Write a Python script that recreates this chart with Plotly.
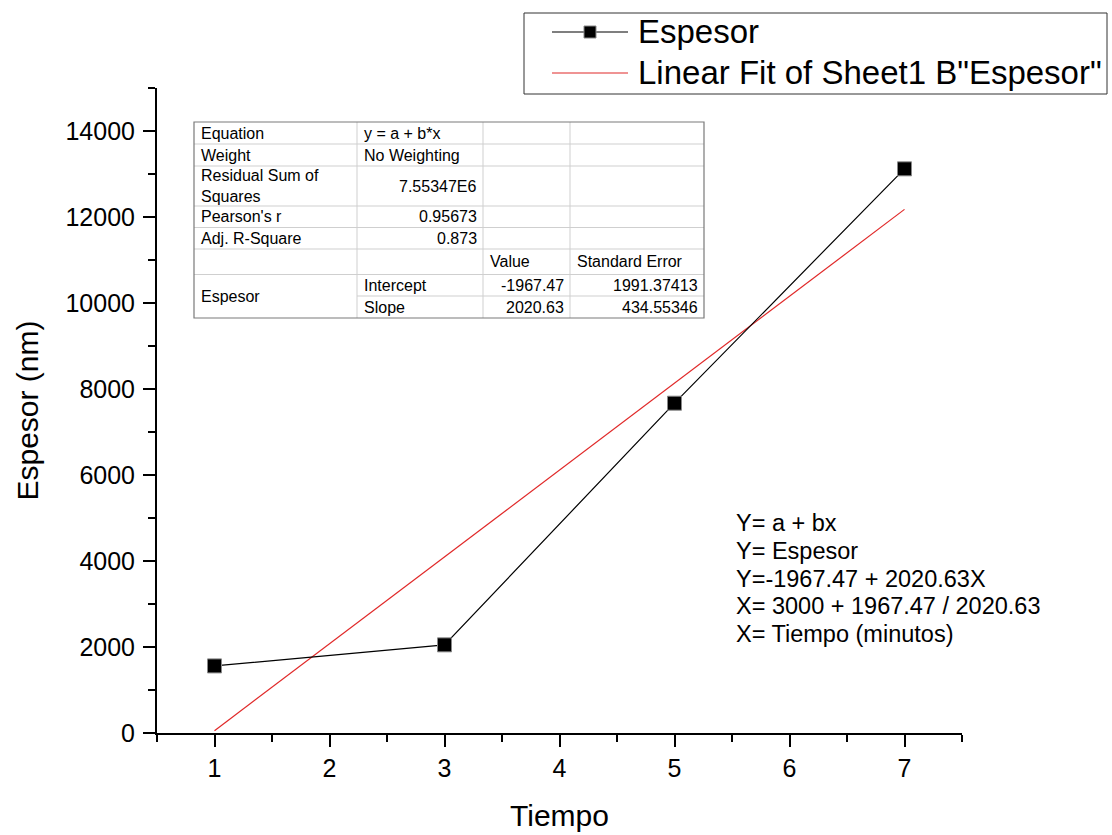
import plotly.graph_objects as go

# ---- data ----
tiempo = [1, 3, 5, 7]
espesor = [1560, 2050, 7670, 13120]
fit_intercept = -1967.47
fit_slope = 2020.63
fit_x = [1, 7]

x_ticks = [1, 2, 3, 4, 5, 6, 7]
y_ticks = [0, 2000, 4000, 6000, 8000, 10000, 12000, 14000]

table_col0 = ["Equation", "Weight", "Residual Sum of<br>Squares", "Pearson's r", "Adj. R-Square", "", "Espesor", ""]
table_col1 = ["y = a + b*x", "No Weighting", "7.55347E6", "0.95673", "0.873", "", "Intercept", "Slope"]
table_col2 = ["", "", "", "", "", "Value", "-1967.47", "2020.63"]
table_col3 = ["", "", "", "", "", "Standard Error", "1991.37413", "434.55346"]

note_lines = ["Y= a + bx", "Y= Espesor", "Y=-1967.47 + 2020.63X",
              "X= 3000 + 1967.47 / 2020.63", "X= Tiempo (minutos)"]

legend_names = ["Espesor", 'Linear Fit of Sheet1 B"Espesor"']

FONT = "Liberation Sans, Arial, sans-serif"
W, H = 1112, 835
L, R, T, B = 157, 962, 88, 733


def px(x):
    return (x - L) / (R - L)


def py(y):
    return (B - y) / (B - T)


fit_y = [fit_intercept + fit_slope * v for v in fit_x]

fig = go.Figure()
fig.add_trace(go.Scatter(x=fit_x, y=fit_y, mode="lines",
                         line=dict(color="#e02828", width=1.2),
                         name=legend_names[1], showlegend=False))
fig.add_trace(go.Scatter(x=tiempo, y=espesor, mode="lines+markers",
                         line=dict(color="black", width=1.2),
                         marker=dict(symbol="square", size=14, color="black",
                                     line=dict(color="#888", width=1)),
                         name=legend_names[0], showlegend=False))

shapes = []
annots = []

# ---- fit table ----
col_x = [194, 357, 483, 570, 704]
row_y = [122, 144, 166, 206, 227.5, 249, 274.5, 296, 318]
inner = "#cfcfcf"
for cx in col_x[1:-1]:
    shapes.append(dict(type="line", xref="paper", yref="paper",
                       x0=px(cx), x1=px(cx), y0=py(row_y[0]), y1=py(row_y[-1]),
                       line=dict(color=inner, width=1)))
for i, ry in enumerate(row_y[1:-1], start=1):
    x0 = col_x[0]
    if i == 7:
        x0 = col_x[1]
    shapes.append(dict(type="line", xref="paper", yref="paper",
                       x0=px(x0), x1=px(col_x[-1]), y0=py(ry), y1=py(ry),
                       line=dict(color=inner, width=1)))
shapes.append(dict(type="rect", xref="paper", yref="paper",
                   x0=px(col_x[0]), x1=px(col_x[-1]), y0=py(row_y[-1]), y1=py(row_y[0]),
                   line=dict(color="#7a7a7a", width=1.2), fillcolor="rgba(0,0,0,0)"))

tfont = dict(family=FONT, size=16, color="black")
cols = [table_col0, table_col1, table_col2, table_col3]
for ci, col in enumerate(cols):
    for ri, txt in enumerate(col):
        if not txt:
            continue
        y0, y1 = row_y[ri], row_y[ri + 1]
        if ci == 0 and ri == 6:
            y1 = row_y[8]
        yc = (y0 + y1) / 2
        right_align = (ci == 1 and ri in (2, 3, 4)) or (ci in (2, 3) and ri in (6, 7))
        if right_align:
            xa, anchor = col_x[ci + 1] - 4, "right"
        else:
            xa, anchor = col_x[ci] + 5, "left"
        annots.append(dict(x=px(xa), y=py(yc), xref="paper", yref="paper",
                           text=txt, showarrow=False, xanchor=anchor, yanchor="middle",
                           align="left", font=tfont))

# ---- note text ----
for i, line in enumerate(note_lines):
    annots.append(dict(x=px(734), y=py(523 + i * 27.8), xref="paper", yref="paper",
                       text=line, showarrow=False, xanchor="left", yanchor="middle",
                       font=dict(family=FONT, size=23.5, color="black")))

# ---- manual legend ----
shapes.append(dict(type="rect", xref="paper", yref="paper",
                   x0=px(524), x1=px(1107), y0=py(94), y1=py(13),
                   line=dict(color="#333", width=1), fillcolor="white"))
shapes.append(dict(type="line", xref="paper", yref="paper",
                   x0=px(552), x1=px(628), y0=py(32), y1=py(32),
                   line=dict(color="black", width=1.2)))
shapes.append(dict(type="rect", xref="paper", yref="paper",
                   x0=px(584), x1=px(596), y0=py(38), y1=py(26),
                   line=dict(color="#888", width=1), fillcolor="black"))
shapes.append(dict(type="line", xref="paper", yref="paper",
                   x0=px(552), x1=px(628), y0=py(73), y1=py(73),
                   line=dict(color="#e02828", width=1.2)))
for i, name in enumerate(legend_names):
    annots.append(dict(x=px(636), y=py(32 + i * 40), xref="paper", yref="paper",
                       text=name, showarrow=False, xanchor="left", yanchor="middle",
                       font=dict(family=FONT, size=33, color="black")))

fig.update_layout(
    width=W, height=H,
    margin=dict(l=L, r=W - R, t=T, b=H - B, pad=0, autoexpand=False),
    plot_bgcolor="white", paper_bgcolor="white",
    showlegend=False,
    shapes=shapes, annotations=annots,
    font=dict(family=FONT, color="black"),
)
fig.update_xaxes(
    range=[0.5, 7.5], tickmode="array", tickvals=x_ticks,
    ticktext=[str(v) for v in x_ticks], automargin=False,
    showgrid=False, zeroline=False, showline=True, linecolor="black", linewidth=2,
    ticks="outside", ticklen=12, tickwidth=2, tickcolor="black",
    minor=dict(dtick=0.5, tick0=0.5, ticks="outside", ticklen=7, tickwidth=2, tickcolor="black"),
    tickfont=dict(family=FONT, size=25),
    title=dict(text="Tiempo", font=dict(family=FONT, size=30), standoff=24),
)
fig.update_yaxes(
    range=[0, 15000], tickmode="array", tickvals=y_ticks,
    ticktext=[str(v) for v in y_ticks], automargin=False,
    showgrid=False, zeroline=False, showline=True, linecolor="black", linewidth=2,
    ticks="outside", ticklen=12, tickwidth=2, tickcolor="black",
    minor=dict(dtick=1000, tick0=0, ticks="outside", ticklen=7, tickwidth=2, tickcolor="black"),
    tickfont=dict(family=FONT, size=25), ticklabelstandoff=3,
    title=dict(text="Espesor (nm)", font=dict(family=FONT, size=30), standoff=18),
)

fig.write_html("out.html", config={"displayModeBar": False},
               post_script="document.body.style.margin='0';document.body.style.overflow='hidden';")
